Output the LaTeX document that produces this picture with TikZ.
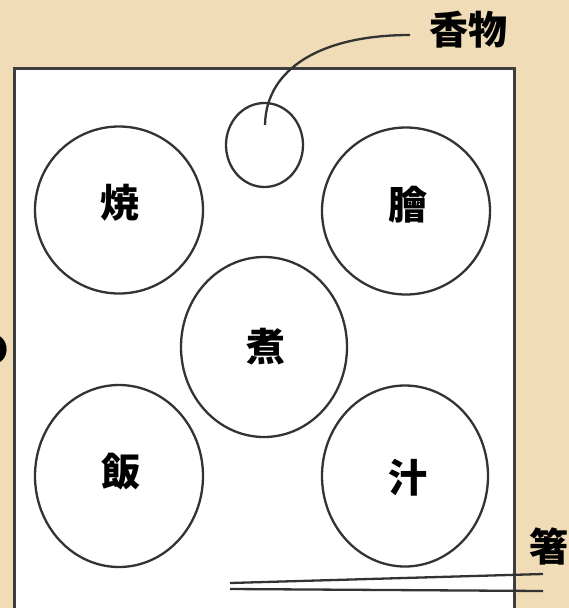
\documentclass[tikz,border=0pt]{standalone}
\usepackage{fontspec}
\newfontfamily\cjk{Noto Sans CJK JP}
\usetikzlibrary{shapes.geometric}
\definecolor{paper}{HTML}{F0DDB8}
\definecolor{ink}{HTML}{333333}
\definecolor{frame}{HTML}{3E3E3E}
\tikzset{
  dish/.style={ellipse, draw=ink, line width=2.3pt, fill=white, inner sep=0pt,
    font=\cjk\bfseries\fontsize{39}{41}\selectfont, text=black},
  lbl/.style={inner sep=0pt, font=\cjk\bfseries\fontsize{39}{41}\selectfont, text=black},
  lead/.style={draw=ink, line width=2.3pt},
}
\begin{document}
\begin{tikzpicture}[x=1pt,y=-1pt]
\useasboundingbox (0,0) rectangle (569,608);
\fill[paper] (0,0) rectangle (569,608);
% tray
\draw[frame, line width=3pt, fill=white] (14,620) -- (14,68) -- (514,68) -- (514,620);
% partially visible label at left edge
\node[lbl, anchor=east] (edge) at (10,350) {の};
% dishes
\node[dish, minimum width=168pt, minimum height=167pt] (yaki) at (119,210) {};
\node[lbl] (yakit) at (120,203) {焼};
\node[dish, minimum width=168pt, minimum height=167pt] (namasu) at (406,211) {};
\node[lbl] (namasut) at (408,205) {膾};
\node[dish, minimum width=166pt, minimum height=180pt] (ni) at (264,347) {};
\node[lbl] (nit) at (266,347) {煮};
\node[dish, minimum width=168pt, minimum height=182pt] (meshi) at (119,476) {};
\node[lbl] (meshit) at (121,472) {飯};
\node[dish, minimum width=166pt, minimum height=181pt] (shiru) at (405,476) {};
\node[lbl] (shirut) at (408,478) {汁};
\node[dish, minimum width=77pt, minimum height=84pt] (kou) at (264.5,145) {};
% labels
\node[lbl] (koulbl) at (468,30) {香物};
\node[lbl] (hashilbl) at (549,546) {箸};
% leader
\coordinate (kin) at (265,125);
\coordinate (kend) at (410,35);
\draw[lead] (kin) .. controls (266,68) and (322,35) .. (kend);
% chopsticks
\coordinate (c1a) at (230,583);
\coordinate (c1b) at (543,574);
\coordinate (c2a) at (230,589);
\coordinate (c2b) at (543,591);
\draw[lead] (c1a) -- (c1b);
\draw[lead] (c2a) -- (c2b);
\end{tikzpicture}
\end{document}
